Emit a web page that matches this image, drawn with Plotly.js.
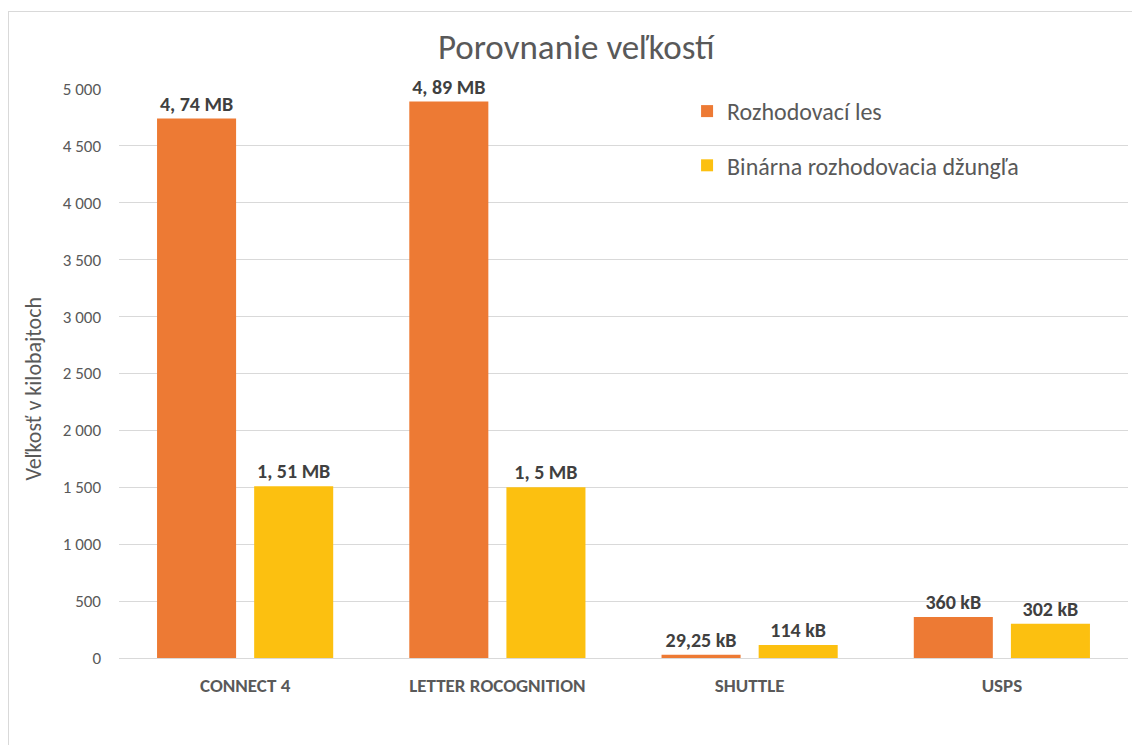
<!DOCTYPE html>
<html>
<head>
<meta charset="utf-8">
<script src="https://cdn.plot.ly/plotly-3.0.1.min.js"></script>
<style>
  html, body { margin: 0; padding: 0; background: #ffffff; }
  #chart { position: absolute; left: 0; top: 0; width: 1132px; height: 745px; }
  #frame { position: absolute; left: 8px; top: 11px; width: 1200px; height: 800px;
           border: 1px solid #d9d9d9; pointer-events: none; }
</style>
</head>
<body>
<div id="chart"></div>
<div id="frame"></div>
<script>
const categories = ["CONNECT 4", "LETTER ROCOGNITION", "SHUTTLE", "USPS"];
const forestName = "Rozhodovací les";
const forestValues = [4740, 4890, 29.25, 360];
const forestLabels = ["4, 74 MB", "4, 89 MB", "29,25 kB", "360 kB"];
const jungleName = "Binárna rozhodovacia džungľa";
const jungleValues = [1510, 1500, 114, 302];
const jungleLabels = ["1, 51 MB", "1, 5 MB", "114 kB", "302 kB"];
const yTicks = [0, 500, 1000, 1500, 2000, 2500, 3000, 3500, 4000, 4500, 5000];

const FONT = "Carlito, Calibri, Lato, 'Open Sans', sans-serif";
const labelFont = { family: FONT, size: 20, color: "#404040", weight: "bold" };

const traces = [
  {
    type: "bar", name: forestName, x: categories, y: forestValues,
    text: forestLabels, textposition: "outside", textfont: labelFont,
    constraintext: "none", cliponaxis: false,
    marker: { color: "#ED7A34" }, legendgroup: "a", hoverinfo: "skip"
  },
  {
    type: "bar", name: jungleName, x: categories, y: jungleValues,
    text: jungleLabels, textposition: "outside", textfont: labelFont,
    constraintext: "none", cliponaxis: false,
    marker: { color: "#FCC010" }, legendgroup: "b", hoverinfo: "skip"
  }
];

const layout = {
  width: 1132, height: 745,
  paper_bgcolor: "rgba(0,0,0,0)", plot_bgcolor: "rgba(0,0,0,0)",
  separators: ", ",
  margin: { l: 119, r: 4, t: 89, b: 87 },
  font: { family: FONT, color: "#595959" },
  title: {
    text: "Porovnanie veľkostí",
    font: { family: FONT, size: 35, color: "#595959" },
    x: 0.509, xref: "container", xanchor: "center", y: 0.937, yref: "container", yanchor: "middle"
  },
  barmode: "group", bargap: 0.23, bargroupgap: 0.186,
  showlegend: true,
  legend: {
    x: 0.563, y: 1.0, xanchor: "left", yanchor: "top",
    font: { family: FONT, size: 24, color: "#595959" },
    tracegroupgap: 20, bgcolor: "rgba(0,0,0,0)"
  },
  xaxis: {
    type: "category", automargin: false,
    showgrid: false, showline: false, zeroline: false, ticks: "",
    ticklabelstandoff: 14,
    tickfont: { family: FONT, size: 19, color: "#595959", weight: "bold" }
  },
  yaxis: {
    range: [0, 5000], automargin: false,
    tickvals: yTicks, tickformat: ",d",
    showgrid: true, gridcolor: "#d9d9d9", gridwidth: 1,
    zeroline: true, zerolinecolor: "#d9d9d9", zerolinewidth: 1,
    showline: false, ticks: "", ticklabelstandoff: 17,
    tickfont: { family: FONT, size: 17, color: "#595959" }
  },
  annotations: [{
    text: "Veľkosť v kilobajtoch", textangle: -90,
    xref: "paper", yref: "paper", x: -0.085, y: 0.474,
    xanchor: "center", yanchor: "middle", showarrow: false,
    font: { family: FONT, size: 22, color: "#595959" }
  }]
};

Plotly.newPlot("chart", traces, layout, { displayModeBar: false, staticPlot: true });
</script>
</body>
</html>
